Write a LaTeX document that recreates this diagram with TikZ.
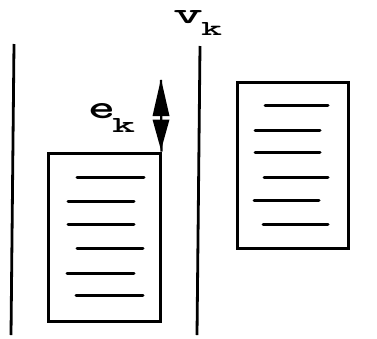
\documentclass[tikz,border=0pt]{standalone}
\begin{document}
\begin{tikzpicture}[x=1pt,y=-1pt,
  docbox/.style={draw,line width=3pt,rectangle,inner sep=0pt},
  textline/.style={line width=3pt,line cap=round},
  wall/.style={line width=2.8pt},
  lab/.style={inner sep=0pt,font=\ttfamily\bfseries}]
\useasboundingbox (0,0) rectangle (377,338);
% walls
\coordinate (w1t) at (14,44); \coordinate (w1b) at (11,335);
\coordinate (w2t) at (200,46); \coordinate (w2b) at (197,335);
\draw[wall] (w1t) -- (w1b);
\draw[wall] (w2t) -- (w2b);
% boxes
\node[docbox,minimum width=112pt,minimum height=168pt] (L) at (104,237) {};
\node[docbox,minimum width=111pt,minimum height=166pt] (R) at (292.5,165) {};
% text lines left
\foreach \a/\b/\y in {77/144/177,68/134/201,68/134/224,77/143/248,67/134/273,76/143/295}
  \draw[textline] (\a,\y) -- (\b,\y);
% text lines right
\foreach \a/\b/\y in {265/328/105,255/320/130,255/320/152,264/328/177,254/319/200,263/328/224}
  \draw[textline] (\a,\y) -- (\b,\y);
% arrow e_k
\coordinate (atop) at (161,80);
\draw[line width=2.4pt] (atop) -- (L.north east);
\fill (152.5,116) -- (161,79) -- (169.5,116) -- cycle;
\fill (152.5,119.5) -- (169.5,119.5) -- (161,150) -- cycle;
% labels
\node[lab,anchor=north west] (v) at (173,10) {\resizebox{30pt}{13pt}{v}};
\node[lab,anchor=north west] (vsub) at (201,22) {\resizebox{21pt}{13pt}{k}};
\node[lab,anchor=north west] (e) at (88,103) {\resizebox{27pt}{15pt}{e}};
\node[lab,anchor=north west] (esub) at (112,118) {\resizebox{23pt}{14pt}{k}};
\end{tikzpicture}
\end{document}
